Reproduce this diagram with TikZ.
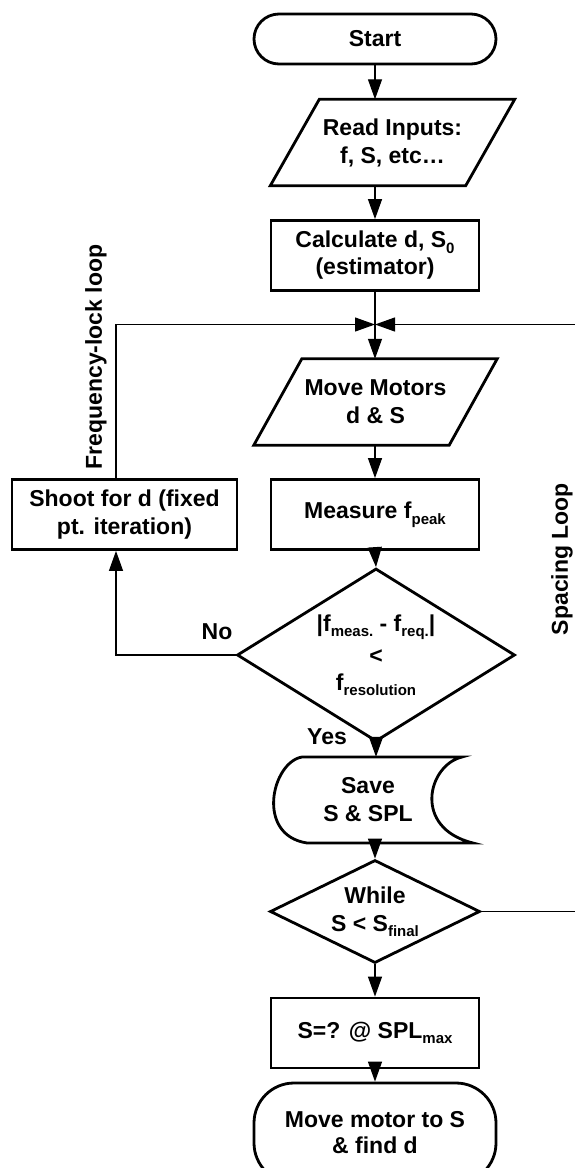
\documentclass[tikz,border=0pt]{standalone}
\usepackage{fontspec}
\setmainfont{Liberation Sans}
\usetikzlibrary{shapes.geometric,arrows.meta,calc}
% lowered, smaller index text (f_peak, S_0, ...)
\newcommand{\lowsub}[1]{\raisebox{-0.24em}{\fontsize{15}{15}\selectfont #1}}
\begin{document}
\begin{tikzpicture}[x=1pt,y=-1pt,
  every node/.style={font=\fontsize{23}{28}\selectfont\bfseries, align=center, inner sep=0pt},
  shapeline/.style={draw, line width=2.8pt, line join=miter},
  box/.style={shapeline, rectangle, minimum height=70},
  term/.style={shapeline, rectangle, rounded corners=#1},
  io/.style={minimum width=195, minimum height=86},
  dia/.style={shapeline, diamond},
  link/.style={line width=1.2pt},
  arr/.style={link, -{Triangle[length=20pt,width=14pt]}},
]
\useasboundingbox (0,0) rectangle (575,1168);
\clip (0,0) rectangle (575,1168);

% ---- main column ----
\node[term=25, minimum width=242, minimum height=50] (start) at (375,39) {Start};

\node[io] (read) at (392.5,142.5) {Read Inputs:\\f, S, etc…};
\draw[shapeline] ([xshift=24.5pt]read.north west) -- ([xshift=24.5pt]read.north east)
  -- ([xshift=-24.5pt]read.south east) -- ([xshift=-24.5pt]read.south west) -- cycle;

\node[box, minimum width=208, font=\fontsize{23}{27}\selectfont\bfseries] (calc) at (375,255.5) {Calculate d, S\lowsub{0}\\(estimator)};

\coordinate (junc) at (375,324.5);

\node[io] (move) at (375.5,402) {Move Motors\\d \& S};
\draw[shapeline] ([xshift=24pt]move.north west) -- ([xshift=24pt]move.north east)
  -- ([xshift=-24pt]move.south east) -- ([xshift=-24pt]move.south west) -- cycle;

\node[box, minimum width=208] (meas) at (375,514.5) {Measure f\lowsub{peak}};

\node[dia, minimum width=278, minimum height=173, aspect=1.6,
      font=\fontsize{23}{25}\selectfont\bfseries] (dec) at (376,655)
  {|f\lowsub{meas.} - f\lowsub{req.}|\\[7pt]<\\[2pt]f\lowsub{resolution}};

% stored-data symbol
\node[minimum width=150, minimum height=86] (save) at (368,800) {Save\\S \& SPL};
\draw[shapeline] (302,757) -- (462,757)
  .. controls (428,765) and (412,828) .. (473,843)
  -- (307,843)
  .. controls (255,835) and (272,762) .. (302,757) -- cycle;

\node[dia, minimum width=210, minimum height=103, aspect=2.04] (whl) at (375,911.5) {While\\S < S\lowsub{final}};

\node[box, minimum width=208] (res) at (375,1033) {S=? @ SPL\lowsub{max}};

\node[term=40, minimum width=242, minimum height=100, font=\fontsize{23}{26}\selectfont\bfseries] (fin) at (375,1133) {Move motor to S\\\& find d};

% ---- frequency-lock loop ----
\node[box, minimum width=225] (shoot) at (124.5,514.5) {Shoot for d (fixed\\pt. iteration)};
\coordinate (loopx) at (116,0);
\coordinate (edge) at (590,0);

\node[rotate=90] (fll) at (96,357) {Frequency-lock loop};
\node[rotate=90] (spl) at (562,559) {Spacing Loop};
\node (no) at (217,632) {No};
\node (yes) at (327,737) {Yes};

% ---- connectors ----
\draw[arr] (start.south) -- (start.south |- read.north);
\draw[arr] (read.south -| calc.north) -- (calc.north);
\draw[link] (calc.south) -- (junc);
\draw[arr] (junc) -- (junc |- move.north);
\draw[arr] (move.south -| meas.north) -- (meas.north);
\draw[arr] (meas.south) -- (dec.north);
\draw[arr] (dec.west) -- (dec.west -| loopx) -- (loopx |- shoot.south);
\draw[arr] (loopx |- shoot.north) -- (loopx |- junc) -- (junc);
\draw[arr] (dec.south) -- (dec.south |- save.north);
\draw[arr] (save.south -| whl.north) -- (whl.north);
\draw[arr] (whl.east) -- (whl.east -| edge) -- (edge |- junc) -- (junc);
\draw[arr] (whl.south) -- (res.north);
\draw[arr] (res.south) -- (fin.north);
\end{tikzpicture}
\end{document}
